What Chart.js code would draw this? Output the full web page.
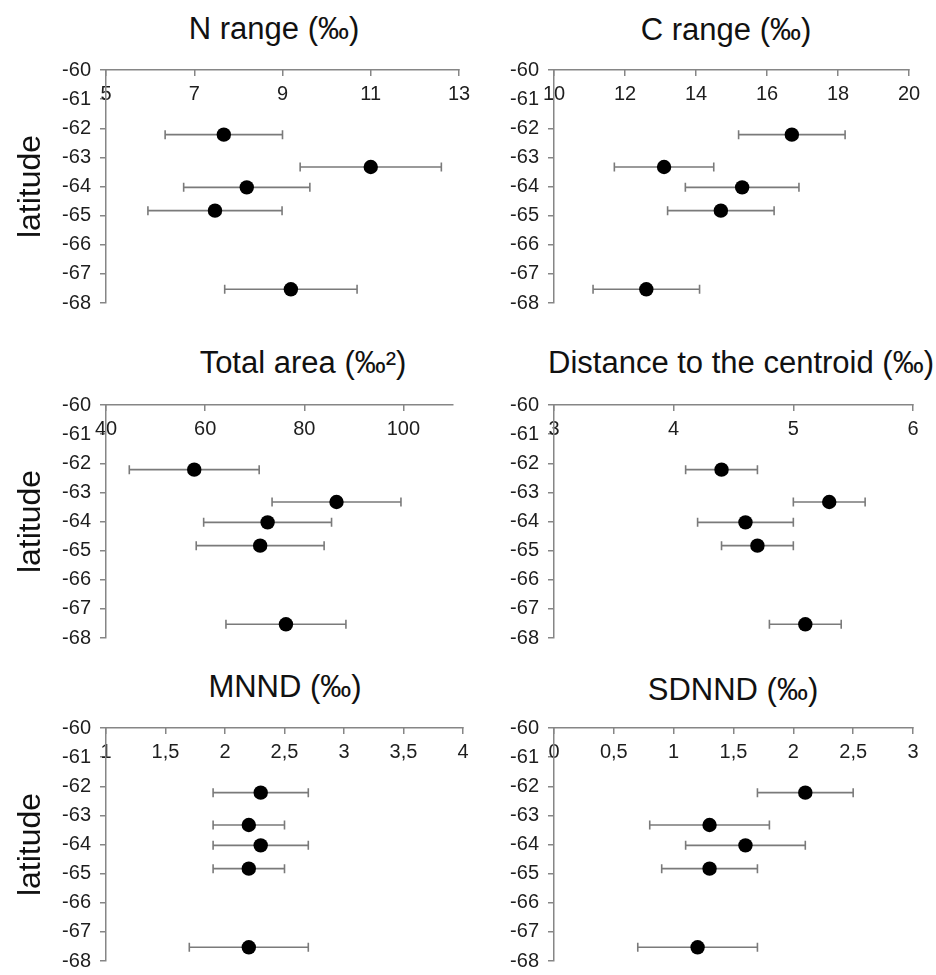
<!DOCTYPE html>
<html>
<head>
  <title>Latitude panels</title>
  <meta charset="UTF-8">
  <script src="https://cdn.jsdelivr.net/npm/chart.js"></script>
  <style>
    html, body { margin: 0; padding: 0; background: #fff; overflow: hidden; }
    #page {
      position: relative;
      width: 936px;
      height: 975px;
      overflow: hidden;
      font-family: "Liberation Sans", Arial, sans-serif;
    }
    #page canvas { position: absolute; }
    .ttl {
      position: absolute;
      font-size: 31px;
      line-height: 31px;
      color: #111;
      white-space: nowrap;
      transform: translateX(-50%);
    }
  </style>
</head>
<body>
  <div id="page"></div>

  <script>
    // sampling site latitudes (same for every panel)
    const latitude = [-62.22, -63.33, -64.03, -64.83, -67.53];
    const latTicks = [-60, -61, -62, -63, -64, -65, -66, -67, -68];

    // means and half-widths of the error bars
    const nRange = [7.67, 11.0, 8.19, 7.47, 9.19];
    const nRangeErr = [1.33, 1.6, 1.43, 1.52, 1.5];
    const nTicks = [5, 7, 9, 11, 13];

    const cRange = [16.7, 13.1, 15.3, 14.7, 12.6];
    const cRangeErr = [1.5, 1.4, 1.6, 1.5, 1.5];
    const cTicks = [10, 12, 14, 16, 18, 20];

    const totalArea = [57.8, 86.5, 72.6, 71.1, 76.3];
    const totalAreaErr = [13.1, 13.0, 12.9, 12.9, 12.1];
    const areaTicks = [40, 60, 80, 100];

    const centroid = [4.4, 5.3, 4.6, 4.7, 5.1];
    const centroidErr = [0.3, 0.3, 0.4, 0.3, 0.3];
    const centroidTicks = [3, 4, 5, 6];

    const mnnd = [2.3, 2.2, 2.3, 2.2, 2.2];
    const mnndErr = [0.4, 0.3, 0.4, 0.3, 0.5];
    const mnndTicks = [1, 1.5, 2, 2.5, 3, 3.5, 4];

    const sdnnd = [2.1, 1.3, 1.6, 1.3, 1.2];
    const sdnndErr = [0.4, 0.5, 0.5, 0.4, 0.5];
    const sdnndTicks = [0, 0.5, 1, 1.5, 2, 2.5, 3];

    const panels = [
      { title: 'N range (‰)', mean: nRange, err: nRangeErr, ticks: nTicks, min: 5, max: 13 },
      { title: 'C range (‰)', mean: cRange, err: cRangeErr, ticks: cTicks, min: 10, max: 20 },
      { title: 'Total area (‰²)', mean: totalArea, err: totalAreaErr, ticks: areaTicks, min: 40, max: 110 },
      { title: 'Distance to the centroid (‰)', mean: centroid, err: centroidErr, ticks: centroidTicks, min: 3, max: 6 },
      { title: 'MNND (‰)', mean: mnnd, err: mnndErr, ticks: mnndTicks, min: 1, max: 4 },
      { title: 'SDNND (‰)', mean: sdnnd, err: sdnndErr, ticks: sdnndTicks, min: 0, max: 3 }
    ];

    // where each panel sits on the page (canvas box, plot left/right, title centre)
    const layout = [
      { x: 0,   y: 49,  w: 480, L: 106, R: 459, tx: 274, ty: 28 },
      { x: 468, y: 49,  w: 468, L: 86,  R: 441, tx: 726, ty: 29 },
      { x: 0,   y: 384, w: 480, L: 106, R: 453, tx: 303, ty: 362 },
      { x: 468, y: 384, w: 468, L: 86,  R: 445, tx: 741, ty: 362 },
      { x: 0,   y: 707, w: 480, L: 106, R: 463, tx: 285, ty: 686 },
      { x: 468, y: 707, w: 468, L: 86,  R: 445, tx: 733, ty: 689 }
    ];
    const PAD_TOP = 20, PLOT_H = 241, PAD_BOTTOM = 14;

    const AXIS = '#868686';
    const TEXT = '#1e1e1e';
    const FONT = '"Liberation Sans", Arial, sans-serif';
    const comma = v => String(v).replace('.', ',');

    // horizontal error bars with end caps, drawn under the points
    const errorBars = {
      id: 'errorBars',
      beforeDatasetsDraw(chart) {
        const { ctx, scales: { x, y } } = chart;
        const ds = chart.data.datasets[0];
        ctx.save();
        ctx.strokeStyle = '#7a7a7a';
        ctx.lineWidth = 1.6;
        ds.data.forEach((p, i) => {
          const e = ds.errors[i];
          const x0 = x.getPixelForValue(p.x - e);
          const x1 = x.getPixelForValue(p.x + e);
          const py = y.getPixelForValue(p.y);
          ctx.beginPath();
          ctx.moveTo(x0, py); ctx.lineTo(x1, py);
          ctx.moveTo(x0, py - 4.5); ctx.lineTo(x0, py + 4.5);
          ctx.moveTo(x1, py - 4.5); ctx.lineTo(x1, py + 4.5);
          ctx.stroke();
        });
        ctx.restore();
      }
    };

    const page = document.getElementById('page');

    panels.forEach((p, k) => {
      const lay = layout[k];
      const leftCol = k % 2 === 0;

      const t = document.createElement('div');
      t.className = 'ttl';
      t.textContent = p.title;
      t.style.left = lay.tx + 'px';
      t.style.top = (lay.ty - 15) + 'px';
      page.appendChild(t);

      const cv = document.createElement('canvas');
      cv.width = lay.w;
      cv.height = PAD_TOP + PLOT_H + PAD_BOTTOM;
      cv.style.left = lay.x + 'px';
      cv.style.top = lay.y + 'px';
      page.appendChild(cv);

      new Chart(cv.getContext('2d'), {
        type: 'scatter',
        data: {
          datasets: [{
            data: p.mean.map((m, i) => ({ x: m, y: latitude[i] })),
            errors: p.err,
            backgroundColor: '#000',
            borderColor: '#000',
            pointRadius: 7.2,
            pointHoverRadius: 7.2,
            borderWidth: 0
          }]
        },
        options: {
          responsive: false,
          animation: false,
          layout: { padding: { top: PAD_TOP, bottom: PAD_BOTTOM, left: 0, right: lay.w - lay.R } },
          plugins: { legend: { display: false }, tooltip: { enabled: false } },
          scales: {
            x: {
              type: 'linear',
              position: 'top',
              min: p.min,
              max: p.max,
              afterBuildTicks: s => { s.ticks = p.ticks.map(v => ({ value: v })); },
              afterFit: s => { s.height = 0; s.paddingLeft = 0; s.paddingRight = 0; },
              grid: { drawOnChartArea: false, tickLength: -6, color: AXIS, lineWidth: 1.5 },
              border: { color: AXIS, width: 1.5 },
              ticks: {
                autoSkip: false,
                maxRotation: 0,
                mirror: true,
                padding: 12,
                color: TEXT,
                font: { family: FONT, size: 20 },
                callback: v => comma(v)
              }
            },
            y: {
              type: 'linear',
              min: -68,
              max: -60,
              afterBuildTicks: s => { s.ticks = latTicks.map(v => ({ value: v })); },
              afterFit: s => { s.width = lay.L; },
              grid: { drawOnChartArea: false, tickLength: 6, color: AXIS, lineWidth: 1.5 },
              border: { color: AXIS, width: 1.5 },
              ticks: {
                padding: 9,
                color: TEXT,
                font: { family: FONT, size: 20 },
                callback: v => String(v)
              },
              title: {
                display: leftCol,
                text: 'latitude',
                color: '#111',
                font: { family: FONT, size: 32 },
                padding: { top: 12, bottom: 0 }
              }
            }
          }
        },
        plugins: [errorBars]
      });
    });
  </script>
</body>
</html>
